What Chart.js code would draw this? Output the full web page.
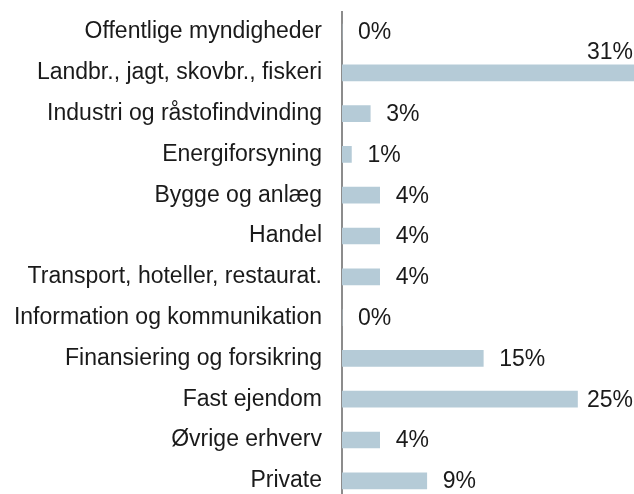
<!DOCTYPE html>
<html>
<head>
<meta charset="utf-8">
<script src="https://cdn.jsdelivr.net/npm/chart.js@4/dist/chart.umd.min.js"></script>
<style>
html,body{margin:0;padding:0;background:#fff;overflow:hidden;}
#wrap{width:634px;height:502px;}
</style>
</head>
<body>
<div id="wrap"><canvas id="c" width="634" height="502"></canvas></div>
<script>
const categories = [
  "Offentlige myndigheder",
  "Landbr., jagt, skovbr., fiskeri",
  "Industri og råstofindvinding",
  "Energiforsyning",
  "Bygge og anlæg",
  "Handel",
  "Transport, hoteller, restaurat.",
  "Information og kommunikation",
  "Finansiering og forsikring",
  "Fast ejendom",
  "Øvrige erhverv",
  "Private"
];
const shares = [0, 31, 3, 1, 4, 4, 4, 0, 15, 25, 4, 9];
const valueLabels = ["0%", "31%", "3%", "1%", "4%", "4%", "4%", "0%", "15%", "25%", "4%", "9%"];

const FONT = "Liberation Sans, Arial, Helvetica, sans-serif";
const FONT_SIZE = 23;

const valueLabelPlugin = {
  id: 'valueLabels',
  afterDatasetsDraw(chart) {
    const ctx = chart.ctx;
    const meta = chart.getDatasetMeta(0);
    const area = chart.chartArea;
    ctx.save();
    ctx.font = FONT_SIZE + "px " + FONT;
    ctx.fillStyle = "#1a1a1a";
    ctx.textBaseline = "middle";
    meta.data.forEach((bar, i) => {
      const txt = valueLabels[i];
      const w = ctx.measureText(txt).width;
      const x = bar.x + 16;
      if (x + w <= area.right) {
        ctx.textAlign = "left";
        ctx.fillText(txt, x, bar.y + 1);
      } else if (bar.x + 8 + w <= area.right) {
        ctx.textAlign = "right";
        ctx.fillText(txt, area.right - 1, bar.y + 1);
      } else {
        ctx.textAlign = "right";
        ctx.fillText(txt, area.right - 1, bar.y - 20);
      }
    });
    ctx.restore();
  }
};

new Chart(document.getElementById('c'), {
  type: 'bar',
  data: {
    labels: categories,
    datasets: [{
      data: shares,
      backgroundColor: '#b5cbd7',
      borderWidth: 0,
      barThickness: 16
    }]
  },
  options: {
    indexAxis: 'y',
    responsive: false,
    animation: false,
    devicePixelRatio: 1,
    layout: { padding: { top: 11.6, bottom: 0.8, left: 0, right: 0 } },
    plugins: { legend: { display: false }, tooltip: { enabled: false } },
    scales: {
      x: {
        display: false,
        min: 0,
        max: 31
      },
      y: {
        afterFit(scale) {
          scale.width = 342;
          scale.paddingTop = 0;
          scale.paddingBottom = 0;
        },
        grid: { display: false, drawTicks: false },
        border: { display: true, color: '#8c8c8c', width: 2 },
        ticks: {
          padding: 20,
          color: '#1a1a1a',
          font: { family: FONT, size: FONT_SIZE }
        }
      }
    }
  },
  plugins: [valueLabelPlugin]
});
</script>
</body>
</html>
